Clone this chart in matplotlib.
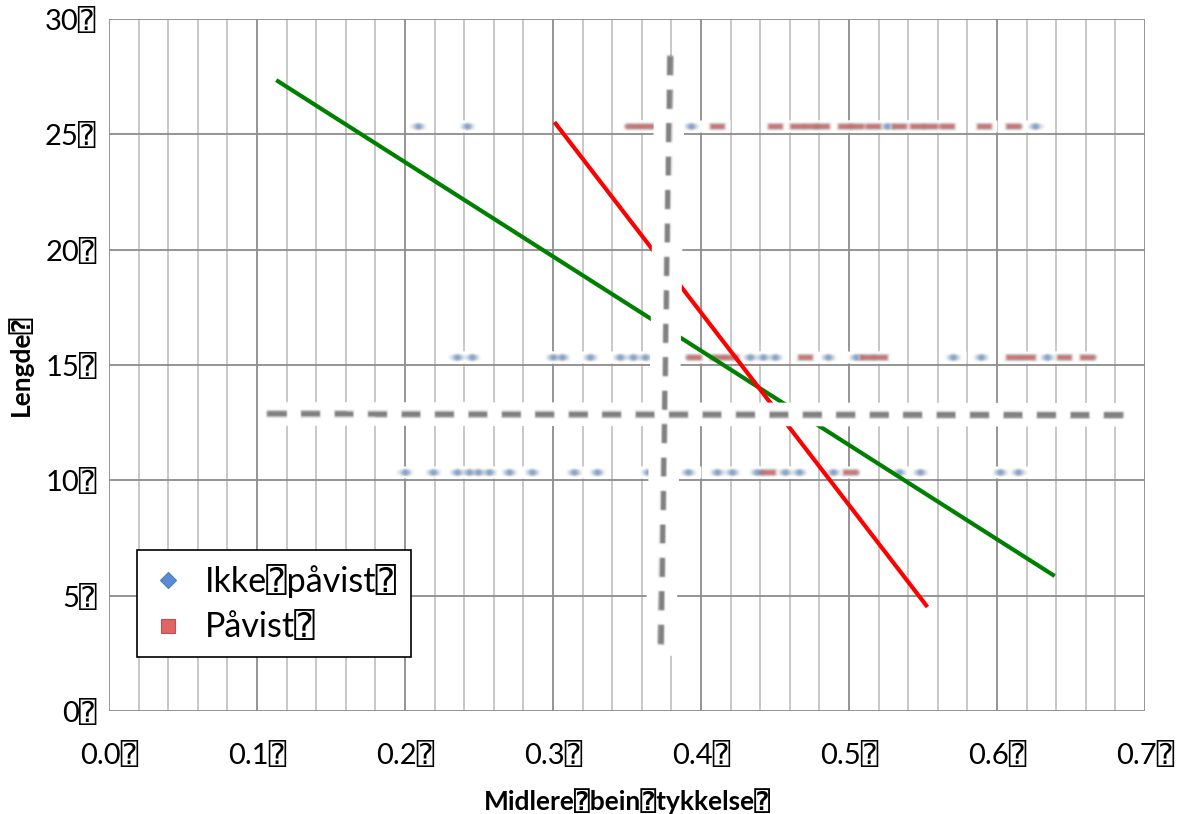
import numpy as np
import matplotlib
matplotlib.use("Agg")
import matplotlib.pyplot as plt
from matplotlib.path import Path
from matplotlib.lines import Line2D

plt.rcParams['font.family'] = ['Lato', 'DejaVu Sans', 'DejaVu Sans Mono']

Q = "\u2370"

# measurements: mean leg thickness vs length, grouped by result
ikke_x10 = [0.200, 0.219, 0.235, 0.243, 0.249, 0.257, 0.270, 0.286, 0.314, 0.330,
            0.364, 0.391, 0.411, 0.421, 0.438, 0.457, 0.466, 0.489, 0.534, 0.548,
            0.602, 0.614]
pavist_x10 = [0.445, 0.501]
ikke_x15 = [0.235, 0.245, 0.300, 0.306, 0.325, 0.345, 0.354, 0.362, 0.433, 0.442,
            0.450, 0.486, 0.505, 0.570, 0.589, 0.634]
pavist_x15 = [0.395, 0.411, 0.420, 0.470, 0.512, 0.521, 0.611, 0.621, 0.645, 0.661]
ikke_x25 = [0.209, 0.242, 0.393, 0.526, 0.626]
pavist_x25 = [0.354, 0.364, 0.411, 0.450, 0.465, 0.474, 0.482, 0.497, 0.505, 0.516,
              0.534, 0.546, 0.555, 0.566, 0.591, 0.611]
row_y = [10.35, 15.35, 25.35]

# trend lines
green_x = [0.113, 0.639]
green_y = [27.35, 5.85]
red_x = [0.301, 0.553]
red_y = [25.53, 4.51]

# threshold lines
vline_x = [0.379, 0.373]
vline_y = [28.4, 2.4]
hline_x = [0.107, 0.692]
hline_y = [12.88, 12.84]

xticks = [0.0, 0.1, 0.2, 0.3, 0.4, 0.5, 0.6, 0.7]
yticks = [0, 5, 10, 15, 20, 25, 30]


class Blur:
    def __init__(self, r):
        self.r = r

    def __call__(self, im, dpi):
        r = self.r
        im = np.pad(im, [(r, r), (r, r), (0, 0)], "constant")
        k = np.exp(-0.5 * (np.arange(-r, r + 1) / (r / 2.0)) ** 2)
        k /= k.sum()
        out = np.zeros_like(im)
        for i, w in enumerate(k):
            out += w * np.roll(im, i - r, axis=1)
        im = out
        out = np.zeros_like(im)
        for i, w in enumerate(k):
            out += w * np.roll(im, i - r, axis=0)
        return out, -r, -r


diamond = Path([(-1, 0), (0, 0.28), (1, 0), (0, -0.28), (-1, 0)], closed=True)
bar = Path([(-1, -0.2), (1, -0.2), (1, 0.2), (-1, 0.2), (-1, -0.2)], closed=True)
halo = Path([(-1, -0.45), (1, -0.45), (1, 0.45), (-1, 0.45), (-1, -0.45)], closed=True)

blue = '#6A9CDD'
red = '#D9585A'

fig = plt.figure(figsize=(11.94, 8.14), dpi=100)
ax = fig.add_axes([109 / 1194, 1 - 711 / 814, 1036 / 1194, 692 / 814])
ax.set_xlim(0, 0.7)
ax.set_ylim(0, 30)

# grid: light minor every 0.02, darker at 0.1 and every 5
for x in np.arange(0.02, 0.7, 0.02):
    if abs(x * 10 - round(x * 10)) > 1e-6:
        ax.axvline(x, color='#C4C4C4', lw=1.3, zorder=0.5)
for x in xticks:
    ax.axvline(x, color='#8C8C8C', lw=1.3, zorder=0.6)
for y in yticks:
    ax.axhline(y, color='#8C8C8C', lw=1.3, zorder=0.6)
for s in ax.spines.values():
    s.set_visible(False)

ax.set_xticks(xticks)
ax.set_yticks(yticks)
ax.set_xticklabels([f"{v:.1f}{Q}" for v in xticks], fontsize=21)
ax.set_yticklabels([f"{v}{Q}" for v in yticks], fontsize=21)
ax.tick_params(axis='x', length=0, pad=22)
ax.tick_params(axis='y', length=0, pad=9)

fig.text(627 / 1194, 1 - 801 / 814, f"Midlere{Q}bein{Q}tykkelse{Q}", fontsize=19,
         fontweight='bold', ha='center', va='center')
fig.text(20 / 1194, 1 - 365 / 814, f"Lengde{Q}", fontsize=19, fontweight='bold',
         rotation=90, ha='center', va='center')

groups = [(ikke_x10, row_y[0], diamond, blue), (pavist_x10, row_y[0], bar, red),
          (ikke_x15, row_y[1], diamond, blue), (pavist_x15, row_y[1], bar, red),
          (ikke_x25, row_y[2], diamond, blue), (pavist_x25, row_y[2], bar, red)]
for xs, y, mk, c in groups:
    ax.plot(xs, [y] * len(xs), ls='none', marker=halo, ms=18, mfc='white',
            mec='none', zorder=1)
for xs, y, mk, c in groups:
    ln, = ax.plot(xs, [y] * len(xs), ls='none', marker=mk, ms=12, mfc=c,
                  mec='none', zorder=2)
    ln.set_agg_filter(Blur(3))

ax.plot(green_x, green_y, color='#008000', lw=3, solid_capstyle='butt', zorder=3)
ax.plot(red_x, red_y, color='#FF0000', lw=3, solid_capstyle='butt', zorder=3)

for lx, ly, w in [(vline_x, vline_y, 22), (hline_x, hline_y, 17)]:
    ax.plot(lx, ly, color='white', lw=w, solid_capstyle='butt', zorder=4)
    d, = ax.plot(lx, ly, color='#808080', lw=4.3, ls=(0, (3.3, 2.3)),
                 dash_capstyle='butt', zorder=5)
    d.set_agg_filter(Blur(2))

handles = [Line2D([], [], ls='none', marker='D', ms=8, mfc='#5B8CD3', mec='#4A7EBB', mew=0.8),
           Line2D([], [], ls='none', marker='s', ms=10, mfc='#E06666', mec='#C0504D', mew=0.8)]
leg = ax.legend(handles, [f"Ikke{Q}påvist{Q}", f"Påvist{Q}"], loc='lower left',
                bbox_to_anchor=(0.027, 0.078), borderaxespad=0, fontsize=24.5,
                frameon=True, fancybox=False, edgecolor='black', framealpha=1,
                handlelength=1.0, handletextpad=0.6, labelspacing=0.4,
                borderpad=0.4)
leg.get_frame().set_linewidth(1.2)
leg.set_zorder(6)

fig.savefig('out.png', dpi=100)
